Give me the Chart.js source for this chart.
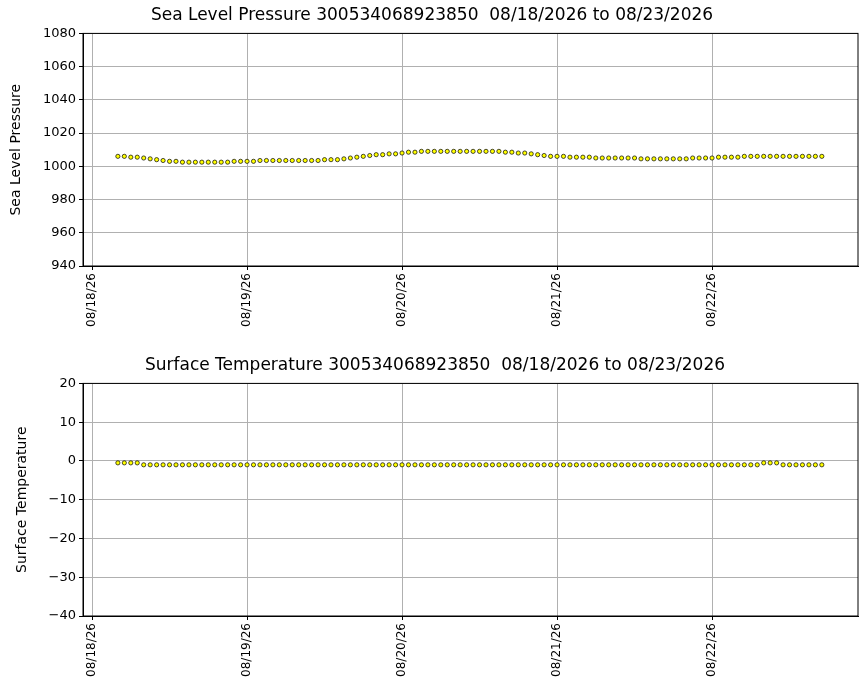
<!DOCTYPE html>
<html>
<head>
<meta charset="UTF-8">
<script src="https://cdn.jsdelivr.net/npm/chart.js"></script>
<style>
  body { margin: 0; background: #fff; }
  .box { position: absolute; left: 0; width: 867px; height: 350px; }
</style>
</head>
<body>
<div class="box" style="top:0"><canvas id="pres"></canvas></div>
<div class="box" style="top:350px"><canvas id="temp"></canvas></div>
<script>
// hours since 08/18/26 00:00, hourly from 04:00
const firstHour = 4;
const dayLabels = ['08/18/26', '08/19/26', '08/20/26', '08/21/26', '08/22/26'];
const pressure = [
  1006,1006,1005.5,1005.5,1005,1004.5,
  1004,1003.5,1003,1003,1002.5,1002.5,1002.5,1002.5,1002.5,1002.5,
  1002.5,1002.5,1003,1003,1003,1003,1003.5,1003.5,1003.5,1003.5,
  1003.5,1003.5,1003.5,1003.5,1003.5,1003.5,1004,1004,1004,1004.5,
  1005,1005.5,1006,1006.5,1007,1007,1007.5,1007.5,1008,1008.5,
  1008.5,1009,1009,1009,1009,1009,1009,1009,1009,1009,
  1009,1009,1009,1009,1008.5,1008.5,1008,1008,1007.5,1007,
  1006.5,1006,1006,1006,1005.5,1005.5,1005.5,1005.5,1005,1005,
  1005,1005,1005,1005,1005,1004.5,1004.5,1004.5,1004.5,1004.5,
  1004.5,1004.5,1004.5,1005,1005,1005,1005,1005.5,1005.5,1005.5,
  1005.5,1006,1006,1006,1006,1006,1006,1006,1006,1006,
  1006,1006,1006,1006
];
const temperature = [
  -0.5,-0.5,-0.5,-0.5,-1,-1,-1,-1,-1,-1,
  -1,-1,-1,-1,-1,-1,-1,-1,-1,-1,
  -1,-1,-1,-1,-1,-1,-1,-1,-1,-1,
  -1,-1,-1,-1,-1,-1,-1,-1,-1,-1,
  -1,-1,-1,-1,-1,-1,-1,-1,-1,-1,
  -1,-1,-1,-1,-1,-1,-1,-1,-1,-1,
  -1,-1,-1,-1,-1,-1,-1,-1,-1,-1,
  -1,-1,-1,-1,-1,-1,-1,-1,-1,-1,
  -1,-1,-1,-1,-1,-1,-1,-1,-1,-1,
  -1,-1,-1,-1,-1,-1,-1,-1,-1,-1,
  -0.5,-0.5,-0.5,-1,-1,-1,-1,-1,-1,-1
];

Chart.defaults.font.family = 'DejaVu Sans';
Chart.defaults.color = '#000';

function makeChart(id, title, yTitle, values, yMin, yMax, yStep, padLeft) {
  const pts = values.map((v, i) => ({ x: firstHour + i, y: v }));
  return new Chart(document.getElementById(id), {
    type: 'scatter',
    data: { datasets: [{
      data: pts,
      backgroundColor: '#ffff00',
      borderColor: '#000',
      borderWidth: 0.7,
      pointRadius: 2.1
    }] },
    options: {
      animation: false,
      responsive: true,
      maintainAspectRatio: false,
      layout: { padding: { left: padLeft, right: 9, top: 0, bottom: 0 } },
      plugins: {
        legend: { display: false },
        tooltip: { enabled: false },
        title: { display: true, text: title, font: { size: 17, weight: 'normal' }, padding: { top: 5, bottom: 8 } }
      },
      scales: {
        x: {
          type: 'linear', min: -1.4, max: 118.6,
          afterBuildTicks: ax => { ax.ticks = [0, 24, 48, 72, 96].map(v => ({ value: v })); },
          afterFit: ax => { ax.height = 84; },
          ticks: {
            font: { size: 12 }, maxRotation: 90, minRotation: 90,
            callback: v => dayLabels[v / 24]
          },
          grid: { color: '#b0b0b0', tickColor: '#000', tickLength: 4 },
          border: { color: '#000' }
        },
        y: {
          min: yMin, max: yMax,
          afterFit: ax => { ax.width = 83 - padLeft; },
          ticks: { stepSize: yStep, font: { size: 13 }, callback: v => v < 0 ? '\u2212' + (-v) : v },
          title: { display: true, text: yTitle, font: { size: 14 }, padding: 2 },
          grid: { color: '#b0b0b0', tickColor: '#000', tickLength: 4 },
          border: { color: '#000' }
        }
      }
    },
    plugins: [{
      id: 'frame',
      afterDraw(c) {
        const a = c.chartArea, g = c.ctx;
        g.save(); g.strokeStyle = '#000'; g.lineWidth = 1;
        g.strokeRect(a.left, a.top, a.right - a.left, a.bottom - a.top);
        g.restore();
      }
    }]
  });
}

makeChart('pres', 'Sea Level Pressure 300534068923850  08/18/2026 to 08/23/2026', 'Sea Level Pressure', pressure, 940, 1080, 20, 6);
makeChart('temp', 'Surface Temperature 300534068923850  08/18/2026 to 08/23/2026', 'Surface Temperature', temperature, -40, 20, 10, 12);
</script>
</body>
</html>
